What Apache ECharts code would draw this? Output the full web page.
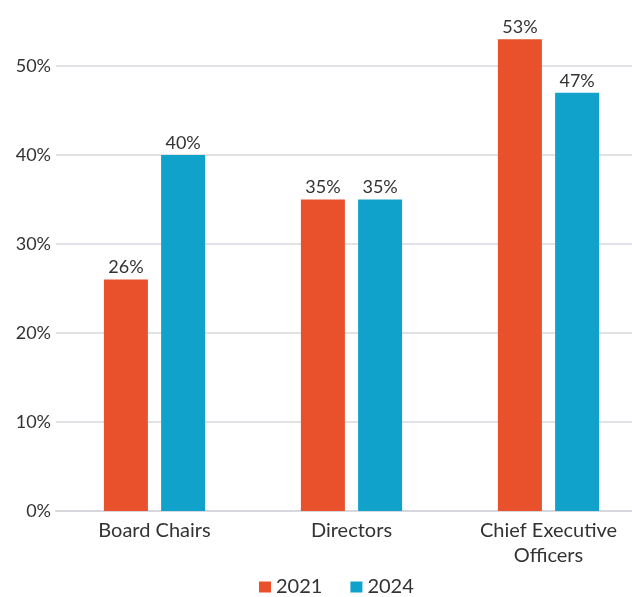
<!DOCTYPE html>
<html>
<head>
<meta charset="utf-8">
<script src="https://cdn.jsdelivr.net/npm/echarts@6/dist/echarts.min.js"></script>
<style>
  html, body { margin: 0; padding: 0; background: #ffffff; overflow: hidden; }
  /* The drawing surface runs a little past the top and right edges of the page */
  #chart { width: 647px; height: 620px; margin-top: -23px; }
</style>
</head>
<body>
<div id="chart"></div>
<script>
// Share of roles held, by year
const categories = ['Board Chairs', 'Directors', 'Chief Executive\nOfficers'];
const values2021 = [26, 35, 53];
const values2024 = [40, 35, 47];
const seriesNames = ['2021', '2024'];

const FONT = 'Lato, "Noto Sans", sans-serif';
const TEXT = '#333333';

const chart = echarts.init(document.getElementById('chart'), null, { renderer: 'canvas' });

const barLabel = {
  show: true,
  position: 'top',
  distance: 3,
  formatter: p => p.value + '%',
  fontFamily: FONT,
  fontSize: 18,
  color: TEXT
};

chart.setOption({
  animation: false,
  backgroundColor: '#ffffff',
  grid: { left: 56, right: 0, top: 0, bottom: 86, containLabel: false, outerBoundsMode: 'none' },
  legend: {
    left: 259,
    top: 600,
    padding: 0,
    itemWidth: 12,
    itemHeight: 11,
    itemGap: 28,
    icon: 'rect',
    textStyle: { fontFamily: FONT, fontSize: 20, color: TEXT },
    data: seriesNames
  },
  xAxis: {
    type: 'category',
    data: categories,
    axisLine: { show: true, lineStyle: { color: '#d6d8de', width: 2 } },
    axisTick: { show: false },
    axisLabel: {
      fontFamily: FONT,
      fontSize: 20,
      color: TEXT,
      margin: 7,
      lineHeight: 25,
      interval: 0
    }
  },
  yAxis: {
    type: 'value',
    min: 0,
    max: 60,
    interval: 10,
    axisLine: { show: false },
    axisTick: { show: false },
    splitLine: { lineStyle: { color: '#d6d8de', width: 1.5 } },
    axisLabel: {
      formatter: v => v + '%',
      fontFamily: FONT,
      fontSize: 18,
      color: TEXT,
      margin: 5
    }
  },
  series: [
    {
      name: seriesNames[0],
      type: 'bar',
      data: values2021,
      barWidth: 44,
      barGap: '30%',
      itemStyle: { color: '#E8512B' },
      label: barLabel
    },
    {
      name: seriesNames[1],
      type: 'bar',
      data: values2024,
      barWidth: 44,
      itemStyle: { color: '#11A2CB' },
      label: barLabel
    }
  ]
});
</script>
</body>
</html>
